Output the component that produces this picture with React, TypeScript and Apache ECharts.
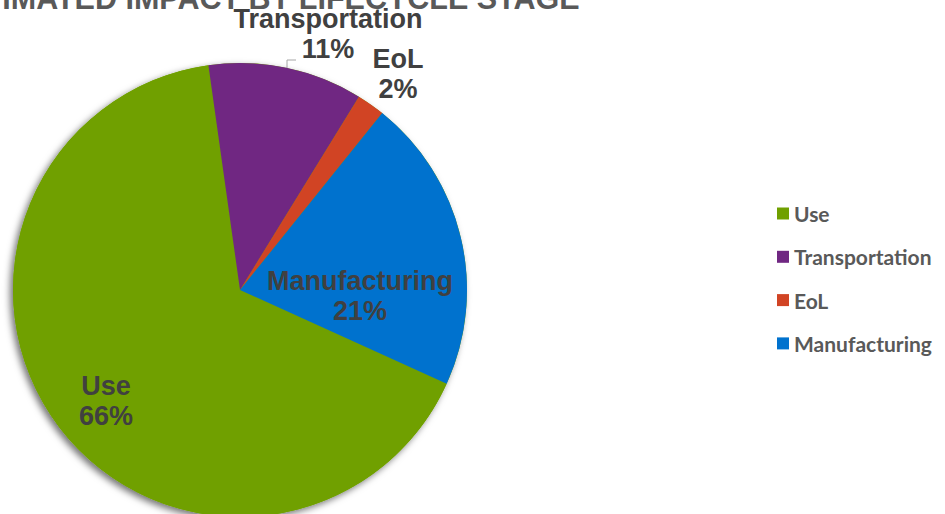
import React, { useEffect, useRef } from "react";
import * as echarts from "echarts";

const TITLE = "ESTIMATED IMPACT BY LIFECYCLE STAGE";
const categories = ["Use", "Transportation", "EoL", "Manufacturing"];
const values = [66, 11, 2, 21];
const colors = ["#70A000", "#702782", "#D14424", "#0072CE"];
// label anchor positions (px) and optional leader line, per slice
const labelPos: number[][] = [
  [106, 401],
  [328, 34],
  [398, 74],
  [360, 296],
];
const leaderLine: Record<number, number[][]> = {
  1: [
    [287, 68],
    [287, 60],
    [296, 60],
  ],
};

export default function App() {
  const ref = useRef<HTMLDivElement>(null);
  useEffect(() => {
    document.body.style.margin = "0";
    if (!ref.current) return;
    const chart = echarts.init(ref.current, null, { renderer: "svg" });
    const labelFont = {
      fontFamily: "Liberation Sans",
      fontWeight: "bold" as const,
      fontSize: 27,
      lineHeight: 30,
      color: "#404040",
    };
    chart.setOption({
      animation: false,
      backgroundColor: "#ffffff",
      title: {
        text: TITLE,
        left: -62,
        top: -23,
        textStyle: {
          fontFamily: "Liberation Sans",
          fontWeight: "bold",
          fontSize: 30.5,
          color: "#595959",
        },
      },
      legend: {
        data: categories,
        orient: "vertical",
        left: 772,
        top: 198,
        itemWidth: 12,
        itemHeight: 12,
        itemGap: 22.3,
        itemStyle: { borderWidth: 0 },
        icon: "rect",
        textStyle: {
          fontFamily: "Lato",
          fontWeight: "bold",
          fontSize: 21,
          lineHeight: 20,
          color: "#595959",
        },
      },
      series: [
        {
          type: "pie",
          silent: true,
          center: [240, 290],
          radius: 227,
          label: { show: false },
          labelLine: { show: false },
          itemStyle: {
            color: "#70A000",
            shadowBlur: 7,
            shadowOffsetX: -3,
            shadowOffsetY: 3,
            shadowColor: "rgba(0,0,0,0.55)",
          },
          data: [{ value: 1, name: "__shadow" }],
        },
        {
          type: "pie",
          center: [240, 290],
          radius: 227,
          startAngle: -24.4,
          clockwise: true,
          itemStyle: { borderWidth: 0 },
          data: categories.map((name, i) => ({
            name,
            value: values[i],
            itemStyle: { color: colors[i] },
            label: {
              show: true,
              position: i === 1 || i === 2 ? "outside" : "inside",
              formatter: (p: any) => `${p.name}\n${p.value}%`,
              ...labelFont,
            },
            labelLine: {
              show: i === 1,
              lineStyle: { color: "#A6A6A6", width: 1 },
            },
          })),
          labelLayout: (params: any) => {
            const pos = labelPos[params.dataIndex];
            const res: any = {
              x: pos[0],
              y: pos[1],
              align: "center",
              verticalAlign: "middle",
            };
            if (leaderLine[params.dataIndex]) {
              res.labelLinePoints = leaderLine[params.dataIndex];
            }
            return res;
          },
        },
      ],
    });
    return () => chart.dispose();
  }, []);
  return <div ref={ref} style={{ width: 945, height: 514 }} />;
}
